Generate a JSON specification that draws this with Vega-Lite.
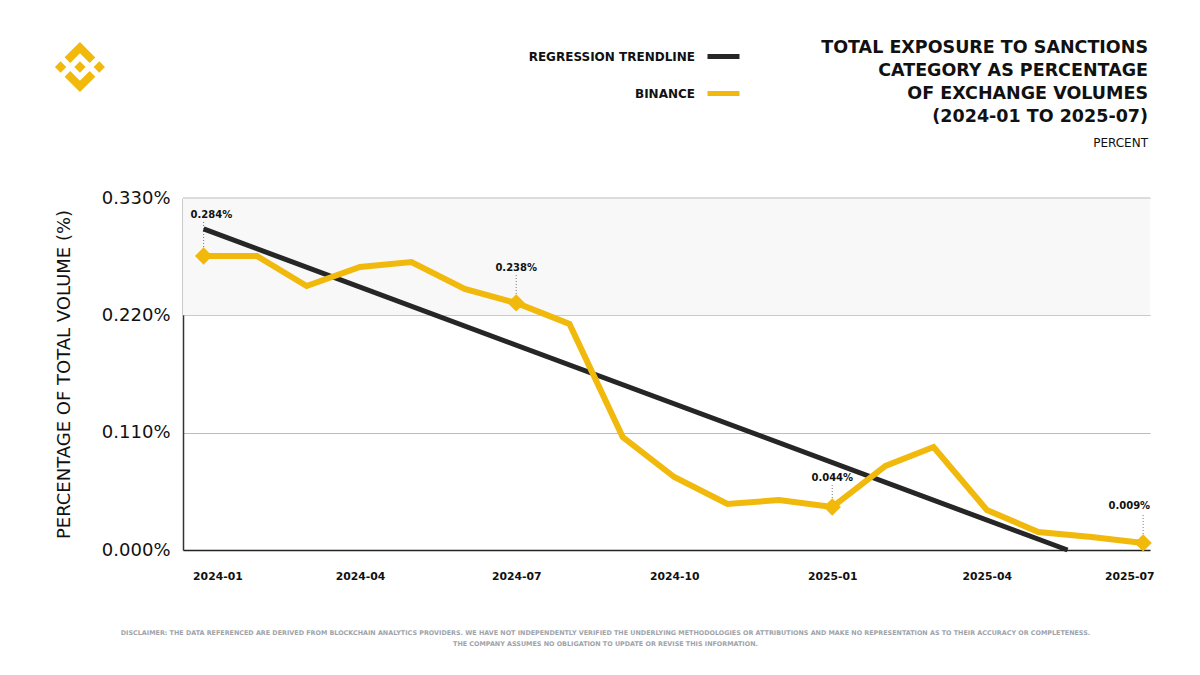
{
  "$schema": "https://vega.github.io/schema/vega-lite/v6.json",
  "width": 967,
  "height": 352,
  "autosize": "none",
  "padding": {"left": 183, "top": 198, "right": 50, "bottom": 125},
  "background": "white",
  "config": {"view": {"stroke": null}, "font": "DejaVu Sans"},
  "title": {
    "text": ["TOTAL EXPOSURE TO SANCTIONS", "CATEGORY AS PERCENTAGE ", "OF EXCHANGE VOLUMES", "(2024-01 TO 2025-07)"],
    "subtitle": "PERCENT",
    "anchor": "end",
    "frame": "group",
    "font": "DejaVu Sans",
    "fontSize": 17.5,
    "fontWeight": "bold",
    "lineHeight": 23,
    "color": "#111111",
    "subtitleFont": "DejaVu Sans",
    "subtitleFontSize": 12,
    "subtitleColor": "#111111",
    "subtitlePadding": 13,
    "offset": -111,
    "dx": -2
  },
  "datasets": {
    "binance": [
      {"date": "2024-01-01", "value": 0.2756, "series": "BINANCE"},
      {"date": "2024-02-01", "value": 0.2756, "series": "BINANCE"},
      {"date": "2024-03-01", "value": 0.2475, "series": "BINANCE"},
      {"date": "2024-04-01", "value": 0.2653, "series": "BINANCE"},
      {"date": "2024-05-01", "value": 0.2700, "series": "BINANCE"},
      {"date": "2024-06-01", "value": 0.2447, "series": "BINANCE"},
      {"date": "2024-07-01", "value": 0.2316, "series": "BINANCE"},
      {"date": "2024-08-01", "value": 0.2119, "series": "BINANCE"},
      {"date": "2024-09-01", "value": 0.1059, "series": "BINANCE"},
      {"date": "2024-10-01", "value": 0.0684, "series": "BINANCE"},
      {"date": "2024-11-01", "value": 0.0431, "series": "BINANCE"},
      {"date": "2024-12-01", "value": 0.0469, "series": "BINANCE"},
      {"date": "2025-01-01", "value": 0.0403, "series": "BINANCE"},
      {"date": "2025-02-01", "value": 0.0788, "series": "BINANCE"},
      {"date": "2025-03-01", "value": 0.0966, "series": "BINANCE"},
      {"date": "2025-04-01", "value": 0.0375, "series": "BINANCE"},
      {"date": "2025-05-01", "value": 0.0169, "series": "BINANCE"},
      {"date": "2025-06-01", "value": 0.0122, "series": "BINANCE"},
      {"date": "2025-07-01", "value": 0.0066, "series": "BINANCE"}
    ],
    "trend": [
      {"date": "2024-01-01", "value": 0.301, "series": "REGRESSION TRENDLINE"},
      {"date": "2025-05-18", "value": 0.0, "series": "REGRESSION TRENDLINE"}
    ],
    "annotations": [
      {"date": "2024-01-01", "value": 0.2756, "top": 0.3075, "label": "0.284%"},
      {"date": "2024-07-01", "value": 0.2316, "top": 0.2578, "label": "0.238%"},
      {"date": "2025-01-01", "value": 0.0403, "top": 0.0609, "label": "0.044%"},
      {"date": "2025-07-01", "value": 0.0066, "top": 0.0347, "label": "0.009%"}
    ]
  },
  "layer": [
    {
      "data": {"values": [{}]},
      "mark": {"type": "rect", "color": "#f8f8f8"},
      "encoding": {
        "x": {
          "datum": {"year": 2023, "month": 12, "date": 20, "utc": true},
          "type": "temporal",
          "scale": {
            "type": "utc",
            "domain": [
              {"year": 2023, "month": 12, "date": 20, "utc": true},
              {"year": 2025, "month": 7, "date": 5, "utc": true}
            ],
            "nice": false
          },
          "axis": {
            "values": [
              {"year": 2024, "month": 1, "date": 1, "utc": true},
              {"year": 2024, "month": 4, "date": 1, "utc": true},
              {"year": 2024, "month": 7, "date": 1, "utc": true},
              {"year": 2024, "month": 10, "date": 1, "utc": true},
              {"year": 2025, "month": 1, "date": 1, "utc": true},
              {"year": 2025, "month": 4, "date": 1, "utc": true},
              {"year": 2025, "month": 7, "date": 1, "utc": true}
            ],
            "labelExpr": "utcFormat(datum.value, '%Y-%m')",
            "grid": false,
            "ticks": false,
            "domain": true,
            "domainColor": "#222222",
            "domainWidth": 1.5,
            "labelFont": "DejaVu Sans",
            "labelFontSize": 10.8,
            "labelFontWeight": "bold",
            "labelColor": "#111111",
            "labelPadding": 20,
            "labelFlush": 25,
            "labelFlushOffset": 11,
            "title": [
              "DISCLAIMER: THE DATA REFERENCED ARE DERIVED FROM BLOCKCHAIN ANALYTICS PROVIDERS. WE HAVE NOT INDEPENDENTLY VERIFIED THE UNDERLYING METHODOLOGIES OR ATTRIBUTIONS AND MAKE NO REPRESENTATION AS TO THEIR ACCURACY OR COMPLETENESS.",
              "THE COMPANY ASSUMES NO OBLIGATION TO UPDATE OR REVISE THIS INFORMATION."
            ],
            "titleFont": "DejaVu Sans",
            "titleFontSize": 6.4,
            "titleFontWeight": "bold",
            "titleColor": "#9ea3aa",
            "titleLineHeight": 11,
            "titleAlign": "center",
            "titleBaseline": "top",
            "titleX": 422,
            "titleY": 79
          }
        },
        "x2": {"datum": {"year": 2025, "month": 7, "date": 5, "utc": true}},
        "y": {
          "datum": 0.22,
          "type": "quantitative",
          "scale": {"domain": [0, 0.33], "nice": false, "zero": true},
          "axis": {
            "values": [0, 0.11, 0.22, 0.33],
            "labelExpr": "format(datum.value, '.3f') + '%'",
            "grid": true,
            "gridColor": "#bbbbbb",
            "gridWidth": 1.2,
            "ticks": false,
            "domain": true,
            "domainColor": "#333333",
            "domainWidth": 1.5,
            "labelFont": "DejaVu Sans",
            "labelFontSize": 18,
            "labelColor": "#111111",
            "labelPadding": 13,
            "title": "PERCENTAGE OF TOTAL VOLUME (%)",
            "titleFont": "DejaVu Sans",
            "titleFontSize": 18,
            "titleFontWeight": "normal",
            "titleColor": "#111111",
            "titlePadding": 28
          }
        },
        "y2": {"datum": 0.33}
      }
    },
    {
      "data": {"values": [{}]},
      "mark": {"type": "rule", "color": "#bbbbbb", "strokeWidth": 1.2},
      "encoding": {
        "y": {"datum": 0.33, "type": "quantitative"}
      }
    },
    {
      "data": {"name": "annotations"},
      "mark": {"type": "rule", "color": "#777777", "strokeWidth": 1, "strokeDash": [1, 2]},
      "encoding": {
        "x": {"field": "date", "type": "temporal"},
        "y": {"field": "value", "type": "quantitative"},
        "y2": {"field": "top"}
      }
    },
    {
      "data": {"name": "trend"},
      "mark": {"type": "line", "strokeWidth": 5},
      "encoding": {
        "x": {"field": "date", "type": "temporal"},
        "y": {"field": "value", "type": "quantitative"},
        "color": {
          "field": "series",
          "type": "nominal",
          "scale": {"domain": ["REGRESSION TRENDLINE", "BINANCE"], "range": ["#262626", "#F0B90B"]},
          "legend": {
            "title": null,
            "orient": "none",
            "legendX": 522,
            "legendY": -160,
            "direction": "vertical",
            "symbolType": "stroke",
            "symbolStrokeWidth": 5,
            "symbolSize": 1024,
            "labelAlign": "right",
            "labelOffset": -47,
            "labelFont": "DejaVu Sans",
            "labelFontSize": 12,
            "labelFontWeight": "bold",
            "labelColor": "#111111",
            "labelLimit": 400,
            "rowPadding": 8
          }
        }
      }
    },
    {
      "data": {"name": "binance"},
      "mark": {"type": "line", "strokeWidth": 6},
      "encoding": {
        "x": {"field": "date", "type": "temporal"},
        "y": {"field": "value", "type": "quantitative"},
        "color": {"field": "series", "type": "nominal"}
      }
    },
    {
      "data": {"name": "annotations"},
      "mark": {"type": "point", "shape": "diamond", "filled": true, "size": 300, "color": "#F0B90B", "opacity": 1},
      "encoding": {
        "x": {"field": "date", "type": "temporal"},
        "y": {"field": "value", "type": "quantitative"}
      }
    },
    {
      "data": {"name": "annotations"},
      "transform": [{"filter": "datum.label == '0.238%' || datum.label == '0.044%'"}],
      "mark": {"type": "text", "font": "DejaVu Sans", "fontSize": 10, "fontWeight": "bold", "color": "#111111", "baseline": "alphabetic", "align": "center", "dy": -4},
      "encoding": {
        "x": {"field": "date", "type": "temporal"},
        "y": {"field": "top", "type": "quantitative"},
        "text": {"field": "label"}
      }
    },
    {
      "data": {"name": "annotations"},
      "transform": [{"filter": "datum.label == '0.284%'"}],
      "mark": {"type": "text", "font": "DejaVu Sans", "fontSize": 10, "fontWeight": "bold", "color": "#111111", "baseline": "alphabetic", "align": "left", "dx": -13, "dy": -4},
      "encoding": {
        "x": {"field": "date", "type": "temporal"},
        "y": {"field": "top", "type": "quantitative"},
        "text": {"field": "label"}
      }
    },
    {
      "data": {"name": "annotations"},
      "transform": [{"filter": "datum.label == '0.009%'"}],
      "mark": {"type": "text", "font": "DejaVu Sans", "fontSize": 10, "fontWeight": "bold", "color": "#111111", "baseline": "alphabetic", "align": "right", "dx": 7, "dy": -4},
      "encoding": {
        "x": {"field": "date", "type": "temporal"},
        "y": {"field": "top", "type": "quantitative"},
        "text": {"field": "label"}
      }
    },
    {
      "data": {"values": [{"brand": "BINANCE"}]},
      "mark": {
        "type": "point",
        "shape": "M-0.388,-0.16L0,-0.548L0.389,-0.159L0.614,-0.385L0,-1L-0.614,-0.386Z M-1,0L-0.774,-0.226L-0.548,0L-0.774,0.226Z M0,-0.226L0.226,0L0,0.226L-0.226,0Z M0.548,0L0.774,-0.226L1,0L0.774,0.226Z M0.389,0.16L0,0.548L-0.388,0.16L-0.614,0.386L0,1L0.614,0.386Z",
        "filled": true,
        "size": 2500,
        "color": "#F0B90B",
        "opacity": 1,
        "strokeWidth": 0
      },
      "encoding": {
        "x": {"datum": {"year": 2023, "month": 10, "date": 21, "utc": true}, "type": "temporal"},
        "y": {"datum": 0.4528, "type": "quantitative"}
      }
    }
  ]
}
